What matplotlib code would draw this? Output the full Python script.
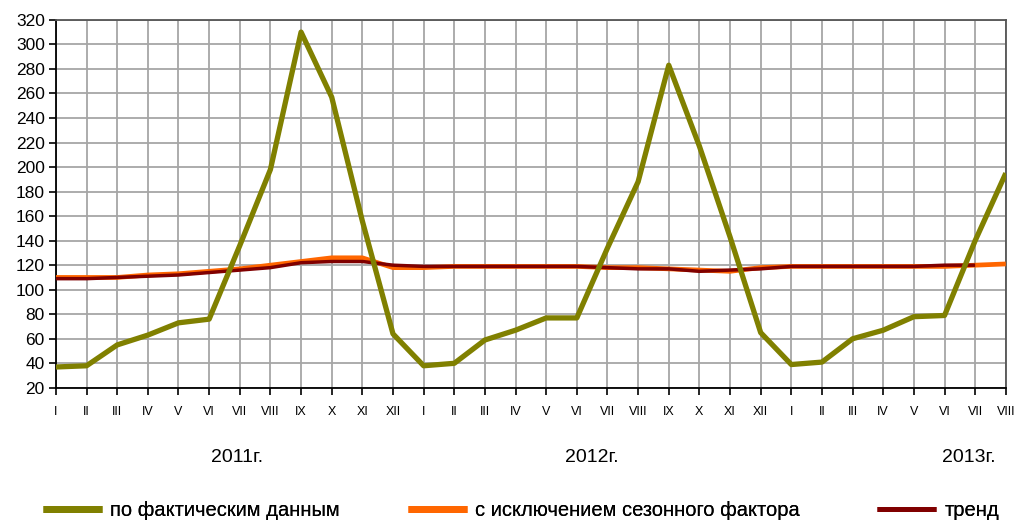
import numpy as np
import matplotlib.pyplot as plt

plt.rcParams['font.family'] = ['Liberation Sans', 'DejaVu Sans']

months = ['I', 'II', 'III', 'IV', 'V', 'VI', 'VII', 'VIII', 'IX', 'X', 'XI', 'XII']
labels = months + months + months[:8]
years = ['2011г.', '2012г.', '2013г.']

actual = [37, 38, 55, 63, 73, 76, 136, 198, 310, 257, 156, 64,
          38, 40, 59, 67, 77, 77, 134, 188, 283, 217, 143, 65,
          39, 41, 60, 67, 78, 79, 140, 195]
seasonal = [110, 110, 110, 112, 113, 115, 117, 120, 123, 126, 126, 118,
            118, 119, 119, 119, 119, 119, 118, 118, 117, 116, 115, 118,
            119, 119, 119, 119, 119, 119, 120, 121]
trend = [109, 109, 110, 111, 112, 114, 116, 118, 122, 123, 123, 120,
         119, 119, 119, 119, 119, 119, 118, 117, 117, 115, 116, 117,
         119, 119, 119, 119, 119, 120, 120, np.nan]

x = np.arange(len(labels))

fig = plt.figure(figsize=(10.17, 5.22), dpi=100)
ax = fig.add_axes([0.055, 0.257, 0.934, 0.705])

l_seas, = ax.plot(x, seasonal, color='#ff6600', lw=3.4, zorder=3, solid_capstyle='butt')
l_trend, = ax.plot(x, trend, color='#800000', lw=2.5, zorder=4, solid_capstyle='butt')
l_act, = ax.plot(x, actual, color='#808000', lw=3.8, zorder=5, solid_capstyle='butt')

ax.set_xlim(0, len(labels) - 1)
ax.set_ylim(20, 320)
ax.set_yticks(range(20, 321, 20))
ax.set_xticks(x)
ax.set_xticklabels(labels, fontsize=9)
ax.tick_params(axis='y', labelsize=12.5, length=5, width=1.2, pad=3)
ax.tick_params(axis='x', length=5, width=1.2, pad=8)
ax.grid(True, color='#a6a6a6', lw=1.3)
ax.set_axisbelow(True)
for s in ['left', 'bottom']:
    ax.spines[s].set_color('black')
    ax.spines[s].set_linewidth(1.3)
for s in ['top', 'right']:
    ax.spines[s].set_color('#555555')
    ax.spines[s].set_linewidth(1.3)

year_pos = [5.9, 17.5, 29.8]
for xp, yl in zip(year_pos, years):
    ax.text(xp, -0.19, yl, transform=ax.get_xaxis_transform(), ha='center', va='center', fontsize=14)

# legend entries placed one by one
entries = [(l_act, 'по фактическим данным', 43, 5.0),
           (l_seas, 'с исключением сезонного фактора', 408, 5.0),
           (l_trend, 'тренд', 877, 3.6)]
for h, txt, px, w in entries:
    proxy = plt.Line2D([], [], color=h.get_color(), lw=w, solid_capstyle='butt')
    leg = fig.legend([proxy], [txt], loc='center left', bbox_to_anchor=(px / 1017, 1 - 511 / 522),
                     frameon=False, fontsize=14.5, handlelength=2.95, handletextpad=0.4,
                     borderaxespad=0, borderpad=0)
    fig.add_artist(leg)

fig.savefig('out.png', dpi=100)
